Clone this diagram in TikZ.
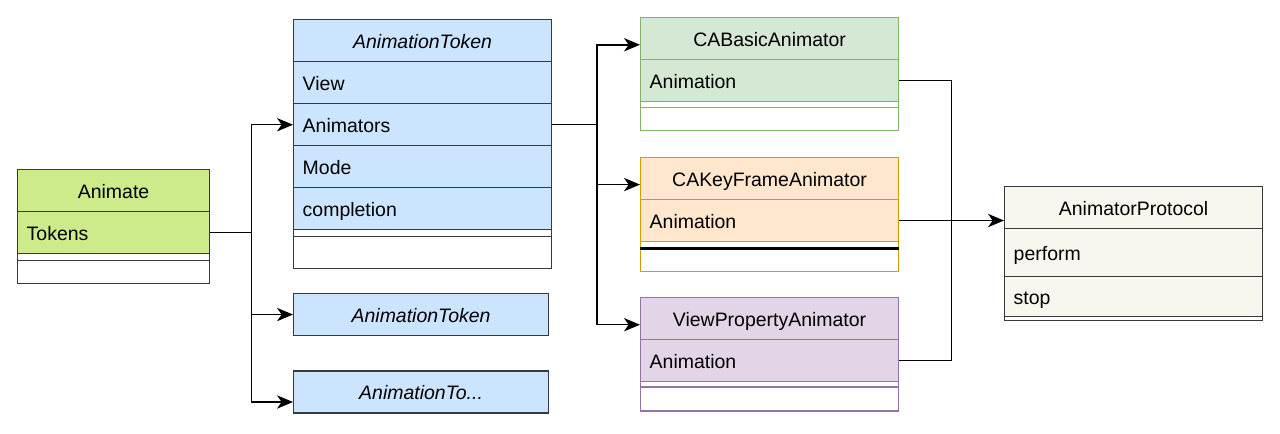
\documentclass[tikz,border=0pt]{standalone}
\usepackage{fontspec}
\setmainfont{Liberation Sans}
\usepackage{tikz}
\usetikzlibrary{arrows.meta}
\usetikzlibrary{calc,positioning}
\usetikzlibrary{shapes.multipart}

\definecolor{darkline}{HTML}{36393D}
\definecolor{animateFill}{HTML}{CDEB8B}
\definecolor{tokenFill}{HTML}{CCE5FF}
\definecolor{basicFill}{HTML}{D5E8D4}
\definecolor{basicLine}{HTML}{82B366}
\definecolor{keyFill}{HTML}{FFE6CC}
\definecolor{keyLine}{HTML}{D79B00}
\definecolor{viewFill}{HTML}{E1D5E7}
\definecolor{viewLine}{HTML}{9673A6}
\definecolor{protoFill}{HTML}{F9F7ED}

\setlength{\parindent}{0pt}
\newcommand{\attrrow}[2][30.4pt]{\rule[\dimexpr 5.6pt-#1/2\relax]{0pt}{#1}#2}
\newcommand{\classhead}[1]{\attrrow{\hfill#1\hfill\null}}
\newcommand{\gapfill}[1]{\rule{0pt}{#1}}

\tikzset{
    umlclass/.style={rectangle, rectangle split, draw, inner xsep=6.75pt, inner ysep=0pt,
    text width=179.75pt, align=left, anchor=north west, line width=1.1pt,
    font=\fontsize{14.6pt}{17pt}\selectfont},
    animatebox/.style={umlclass, draw=darkline, text width=130.25pt, rectangle split parts=4,
    rectangle split part fill={animateFill,animateFill,white,white}},
    tokenbox/.style={umlclass, draw=darkline, rectangle split parts=1, fill=tokenFill, text width=177.5pt},
    animatorbox/.style={umlclass, rectangle split parts=4},
    line/.style={line width=1.1pt},
    link/.style={line, -{Stealth[length=12pt,width=10pt,inset=3.5pt]}}
}

\begin{document}
\begin{tikzpicture}[x=0.75pt, y=-0.75pt]
    \useasboundingbox (0,0) rectangle (1280,433);

    \node (animate) [animatebox] at (17,169) {
        \classhead{Animate}
        \nodepart{two} \attrrow{Tokens}
        \nodepart{three} \gapfill{4.15pt}
        \nodepart{four} \gapfill{16.15pt}
    };

    \node (token1) [umlclass, draw=darkline, rectangle split parts=7,
    rectangle split part fill={tokenFill,tokenFill,tokenFill,tokenFill,tokenFill,white,white}] at (293,19) {
        \classhead{\textit{AnimationToken}}
        \nodepart{two} \attrrow{View}
        \nodepart{three} \attrrow{Animators}
        \nodepart{four} \attrrow{Mode}
        \nodepart{five} \attrrow{completion}
        \nodepart{six} \gapfill{4.15pt}
        \nodepart{seven} \gapfill{22.9pt}
    };

    \node (token2) [tokenbox, below=17.5pt of token1.south west, anchor=north west] {\classhead{\textit{AnimationToken}}};
    \node (token3) [tokenbox, below=25.5pt of token2.south west, anchor=north west] {\classhead{\textit{AnimationTo...}}};

    \node (basic) [animatorbox, draw=basicLine, rectangle split part fill={basicFill,basicFill,white,white}] at (640,17) {
        \classhead{CABasicAnimator}
        \nodepart{two} \attrrow{Animation}
        \nodepart{three} \gapfill{3.4pt}
        \nodepart{four} \gapfill{16.15pt}
    };

    \node (keyframe) [animatorbox, draw=keyLine, rectangle split part fill={keyFill,keyFill,white,white},
    below=19pt of basic.south west, anchor=north west] {
        \classhead{CAKeyFrameAnimator}
        \nodepart{two} \attrrow{Animation}
        \nodepart{three} \gapfill{4.15pt}
        \nodepart{four} \gapfill{16.15pt}
    };
    \draw [line width=1.6pt] (keyframe.three split west) -- (keyframe.three split east);

    \node (viewprop) [animatorbox, draw=viewLine, rectangle split part fill={viewFill,viewFill,white,white},
    below=18.5pt of keyframe.south west, anchor=north west] {
        \classhead{ViewPropertyAnimator}
        \nodepart{two} \attrrow{Animation}
        \nodepart{three} \gapfill{2.9pt}
        \nodepart{four} \gapfill{16.9pt}
    };

    \node (protocol) [umlclass, draw=darkline, rectangle split parts=4,
    rectangle split part fill={protoFill,protoFill,protoFill,white}] at (1004,186) {
        \classhead{AnimatorProtocol}
        \nodepart{two} \attrrow[34.9pt]{perform}
        \nodepart{three} \attrrow[28.9pt]{stop}
        \nodepart{four} \gapfill{1.9pt}
    };

    \coordinate (tokensOut) at ($(animate.text split east)!.5!(animate.two split east)$);
    \coordinate (forkA) at ([xshift=31pt]tokensOut);
    \coordinate (animatorsIn) at ($(token1.two split west)!.5!(token1.three split west)$);
    \coordinate (animatorsOut) at ($(token1.two split east)!.5!(token1.three split east)$);
    \coordinate (forkB) at ([xshift=33.5pt]animatorsOut);
    \coordinate (basicIn) at ($(basic.north west)!.65!(basic.text split west)$);
    \coordinate (keyIn) at ($(keyframe.north west)!.65!(keyframe.text split west)$);
    \coordinate (viewIn) at ($(viewprop.north west)!.65!(viewprop.text split west)$);
    \coordinate (basicOut) at ($(basic.text split east)!.5!(basic.two split east)$);
    \coordinate (keyOut) at ($(keyframe.text split east)!.5!(keyframe.two split east)$);
    \coordinate (viewOut) at ($(viewprop.text split east)!.5!(viewprop.two split east)$);
    \coordinate (forkC) at ([xshift=39.4pt]keyOut);
    \coordinate (protocolIn) at (protocol.west |- keyOut);

    \draw [line] (tokensOut) -- (forkA);
    \draw [link] (forkA) |- (animatorsIn);
    \draw [link] (forkA) |- (token2.west);
    \draw [link] (forkA) |- ([yshift=-7.5pt]token3.west);

    \draw [line] (animatorsOut) -- (forkB);
    \draw [link] (forkB) |- (basicIn);
    \draw [link] (forkB) |- (keyIn);
    \draw [link] (forkB) |- (viewIn);

    \draw [line] (basicOut) -| (forkC);
    \draw [line] (viewOut) -| (forkC);
    \draw [link] (keyOut) -- (protocolIn);
\end{tikzpicture}
\end{document}
